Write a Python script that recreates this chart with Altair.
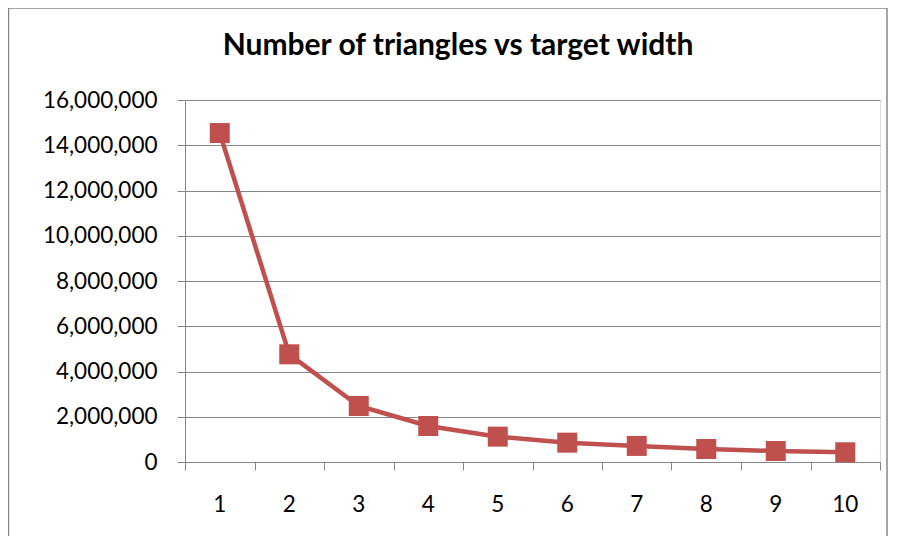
import altair as alt
import pandas as pd

widths = [1, 2, 3, 4, 5, 6, 7, 8, 9, 10]
triangles = [14540000, 4760000, 2475000, 1590000, 1120000, 855000, 710000, 575000, 486000, 430000]
y_ticks = [0, 2000000, 4000000, 6000000, 8000000, 10000000, 12000000, 14000000, 16000000]
x_ticks = [0.5, 1.5, 2.5, 3.5, 4.5, 5.5, 6.5, 7.5, 8.5, 9.5, 10.5]

df = pd.DataFrame({"width": widths, "triangles": triangles})

GREY = "#868686"
RED = "#C0504D"
FONT = "Lato"
FS = 22.5

x_enc = alt.X(
    "width:Q",
    scale=alt.Scale(domain=[0.5, 10.5], nice=False, zero=False),
    axis=alt.Axis(
        title=None,
        values=x_ticks,
        grid=False,
        labels=False,
        tickSize=8,
        tickColor=GREY,
        domainColor=GREY,
    ),
)
y_enc = alt.Y(
    "triangles:Q",
    scale=alt.Scale(domain=[0, 16000000], nice=False),
    axis=alt.Axis(
        title=None,
        values=y_ticks,
        format=",d",
        grid=True,
        gridColor=GREY,
        tickSize=8,
        tickColor=GREY,
        domainColor=GREY,
        labelPadding=20,
        labelFont=FONT,
        labelFontSize=FS,
        labelColor="#000000",
    ),
)

base = alt.Chart(df).encode(x=x_enc, y=y_enc)
line = base.mark_line(color=RED, strokeWidth=4.5)
points = base.mark_square(color=RED, size=400, opacity=1)

x_labels = alt.Chart(df).mark_text(
    font=FONT, fontSize=FS, color="#000000", baseline="alphabetic", align="center"
).encode(
    x=alt.X("width:Q"),
    y=alt.value(412),
    text=alt.Text("width:Q", format="d"),
)

border = alt.Chart(pd.DataFrame({"a": [0]})).mark_rect(
    fill=None, stroke="#888888", strokeWidth=1.5, clip=False
).encode(
    x=alt.value(-176.5), x2=alt.value(702), y=alt.value(-92), y2=alt.value(470)
)

chart = alt.layer(border, line, points, x_labels).properties(
    width=695,
    height=362,
    title=alt.TitleParams(
        "Number of triangles vs target width",
        font=FONT,
        fontSize=30,
        fontWeight="bold",
        color="#000000",
        anchor="middle",
        frame="group",
        baseline="alphabetic",
        offset=-78,
        dx=-74.5,
    ),
    autosize=alt.AutoSizeParams(type="none"),
    padding={"left": 177, "top": 92, "right": 8, "bottom": 74},
).configure_view(stroke=None).configure(background="#ffffff")

chart.save("out.html", embed_options={"renderer": "svg", "actions": False})
